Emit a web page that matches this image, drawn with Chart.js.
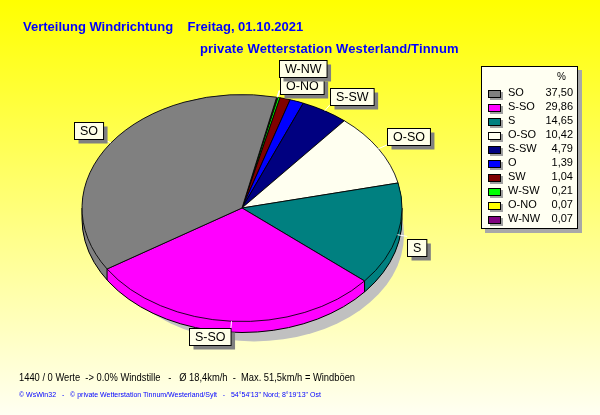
<!DOCTYPE html>
<html lang="de">
<head>
<meta charset="UTF-8">
<title>Verteilung Windrichtung</title>
<script src="https://cdn.jsdelivr.net/npm/chart.js"></script>
<style>
  html, body { margin: 0; padding: 0; }
  body { width: 600px; height: 415px; overflow: hidden; font-family: "Liberation Sans", Arial, sans-serif; }
  #wrap { position: relative; width: 600px; height: 415px; background: linear-gradient(to bottom, #ffff00 0%, #fffff2 100%); }
  #c { position: absolute; left: 0; top: 0; }
  .txt { position: absolute; white-space: pre; line-height: 1; }
  .t1 { left: 23px; top: 20px; font-size: 13px; font-weight: bold; color: #0000ff; }
  .t2 { left: 200px; top: 42px; font-size: 13px; font-weight: bold; color: #0000ff; letter-spacing: 0.15px; }
  .info { left: 19px; top: 372px; font-size: 11px; color: #000; transform: scaleX(0.85); transform-origin: left top; }
  .foot { left: 19px; top: 391px; font-size: 7px; color: #0000ff; }
  #legend { position: absolute; left: 481px; top: 66px; width: 95px; height: 161px; background: #fffff2; border: 1px solid #000; box-shadow: 4px 4px 0 #a8a8a8; }
  #legend .pct { position: absolute; left: 75px; top: 5px; font-size: 10px; }
  .row { position: absolute; left: 0; width: 95px; height: 14px; font-size: 11px; }
  .row .sw { position: absolute; left: 6px; top: 3px; width: 11px; height: 6px; border: 1px solid #000; box-shadow: 2px 2px 0 #a0a0a0; }
  .row .nm { position: absolute; left: 26px; top: 0; }
  .row .val { position: absolute; right: 4px; top: 0; }
</style>
</head>
<body>
<div id="wrap">
  <canvas id="c" width="600" height="415"></canvas>
  <div class="txt t1">Verteilung Windrichtung    Freitag, 01.10.2021</div>
  <div class="txt t2">private Wetterstation Westerland/Tinnum</div>
  <div id="legend"><div class="txt pct">%</div></div>
  <div class="txt info">1440 / 0 Werte  -> 0.0% Windstille   -   Ø 18,4km/h  -  Max. 51,5km/h = Windböen</div>
  <div class="txt foot">© WsWin32   -   © private Wetterstation Tinnum/Westerland/Sylt   -   54°54'13" Nord; 8°19'13" Ost</div>
</div>
<script>
  // Windrichtungen in Legendenreihenfolge
  const directions = ['SO', 'S-SO', 'S', 'O-SO', 'S-SW', 'O', 'SW', 'W-SW', 'O-NO', 'W-NW'];
  const percents = [37.50, 29.86, 14.65, 10.42, 4.79, 1.39, 1.04, 0.21, 0.07, 0.07];
  const colors = ['#808080', '#ff00ff', '#008080', '#fffff0', '#000080', '#0000ff', '#800000', '#00ff00', '#ffff00', '#800080'];
  // Beschriftungen, die im Bild zu sehen sind
  const shownLabels = ['SO', 'S-SO', 'S', 'O-SO', 'S-SW', 'O-NO', 'W-NW'];

  const tilt = 113.5 / 160;
  const depth = 11;

  // Legende
  const legend = document.getElementById('legend');
  directions.forEach((d, i) => {
    const row = document.createElement('div');
    row.className = 'row';
    row.style.top = (20 + i * 14) + 'px';
    row.innerHTML = '<div class="sw" style="background:' + colors[i] + '"></div>' +
      '<div class="txt nm">' + d + '</div>' +
      '<div class="txt val">' + percents[i].toFixed(2).replace('.', ',') + '</div>';
    legend.appendChild(row);
  });

  function squash(ctx, cx, cy) {
    ctx.translate(cx, cy);
    ctx.scale(1, tilt);
    ctx.translate(-cx, -cy);
  }

  const pie3d = {
    id: 'pie3d',
    beforeDatasetsDraw(chart) {
      const ctx = chart.ctx;
      const arcs = chart.getDatasetMeta(0).data;
      const cx = arcs[0].x, cy = arcs[0].y, r = arcs[0].outerRadius;
      const dy = depth / tilt;

      ctx.save();
      squash(ctx, cx, cy);
      // Schatten
      ctx.beginPath();
      ctx.arc(cx + 12, cy + (depth + 16) / tilt, r - 10, 0, Math.PI * 2);
      ctx.fillStyle = '#c0c0c0';
      ctx.fill();
      // Seitenwand
      for (let d = dy; d > 0; d -= 0.5) {
        arcs.forEach(a => {
          ctx.beginPath();
          ctx.moveTo(cx, cy + d);
          ctx.arc(cx, cy + d, r, a.startAngle, a.endAngle);
          ctx.closePath();
          ctx.fillStyle = a.options.backgroundColor;
          ctx.fill();
        });
      }
      ctx.beginPath();
      ctx.arc(cx, cy + dy, r, 0, Math.PI);
      ctx.moveTo(cx + r, cy);
      ctx.lineTo(cx + r, cy + dy);
      ctx.moveTo(cx - r, cy);
      ctx.lineTo(cx - r, cy + dy);
      arcs.forEach(a => {
        const ang = ((a.endAngle % (Math.PI * 2)) + Math.PI * 2) % (Math.PI * 2);
        if (ang > 0 && ang < Math.PI) {
          ctx.moveTo(cx + r * Math.cos(ang), cy + r * Math.sin(ang));
          ctx.lineTo(cx + r * Math.cos(ang), cy + dy + r * Math.sin(ang));
        }
      });
      ctx.restore();
      ctx.strokeStyle = '#000';
      ctx.lineWidth = 1;
      ctx.stroke();

      // Oberseite gestaucht zeichnen
      ctx.save();
      squash(ctx, cx, cy);
    },
    afterDatasetsDraw(chart) {
      const ctx = chart.ctx;
      ctx.restore();
      const arcs = chart.getDatasetMeta(0).data;
      const n = arcs.length;
      const cx = arcs[0].x, cy = arcs[0].y, r = arcs[0].outerRadius;
      const L = 10, h = 17;
      const placed = [];
      ctx.font = '12.5px "Liberation Sans", Arial, sans-serif';
      ctx.textAlign = 'center';
      ctx.textBaseline = 'middle';
      shownLabels.forEach(name => {
        const a = arcs[n - 1 - directions.indexOf(name)];
        const mid = (a.startAngle + a.endAngle) / 2;
        const cs = Math.cos(mid), sn = Math.sin(mid);
        const sx = cx + r * cs, sy = cy + r * tilt * sn;
        const ex = cx + (r + L) * cs, ey = cy + (r + L) * tilt * sn;
        const w = ctx.measureText(name).width + 11;
        let bx = cs >= 0 ? ex : ex - w;
        let by;
        if (Math.abs(sn) < 0.35) by = ey - h / 2 + depth;
        else if (sn < 0) by = ey - h + (sn < -0.95 ? 4 : 0);
        else by = ey;
        placed.forEach(p => {
          if (bx < p.x + p.w && bx + w > p.x && by < p.y + p.h && by + h > p.y) by = p.y - h;
        });
        placed.push({ x: bx, y: by, w: w, h: h });
        ctx.beginPath();
        ctx.moveTo(sx, sy);
        ctx.lineTo(ex, ey);
        ctx.strokeStyle = '#ffffff';
        ctx.lineWidth = 1;
        ctx.stroke();
        bx = Math.round(bx) + 0.5;
        by = Math.round(by) + 0.5;
        ctx.fillStyle = '#808080';
        ctx.fillRect(bx + 4, by + 4, w, h);
        ctx.fillStyle = '#ffffe8';
        ctx.fillRect(bx, by, w, h);
        ctx.strokeStyle = '#000';
        ctx.strokeRect(bx, by, w, h);
        ctx.fillStyle = '#000';
        ctx.fillText(name, bx + w / 2, by + h / 2 + 1);
      });
    }
  };

  new Chart(document.getElementById('c'), {
    type: 'pie',
    data: {
      labels: directions.slice().reverse(),
      datasets: [{
        data: percents.slice().reverse(),
        backgroundColor: colors.slice().reverse(),
        borderColor: '#000',
        borderWidth: 1,
        radius: 160,
        clip: false
      }]
    },
    options: {
      responsive: false,
      animation: false,
      events: [],
      rotation: 12.5,
      layout: { padding: { left: 82, right: 198, top: 48, bottom: 47 } },
      plugins: { legend: { display: false }, tooltip: { enabled: false } }
    },
    plugins: [pie3d]
  });
</script>
</body>
</html>
